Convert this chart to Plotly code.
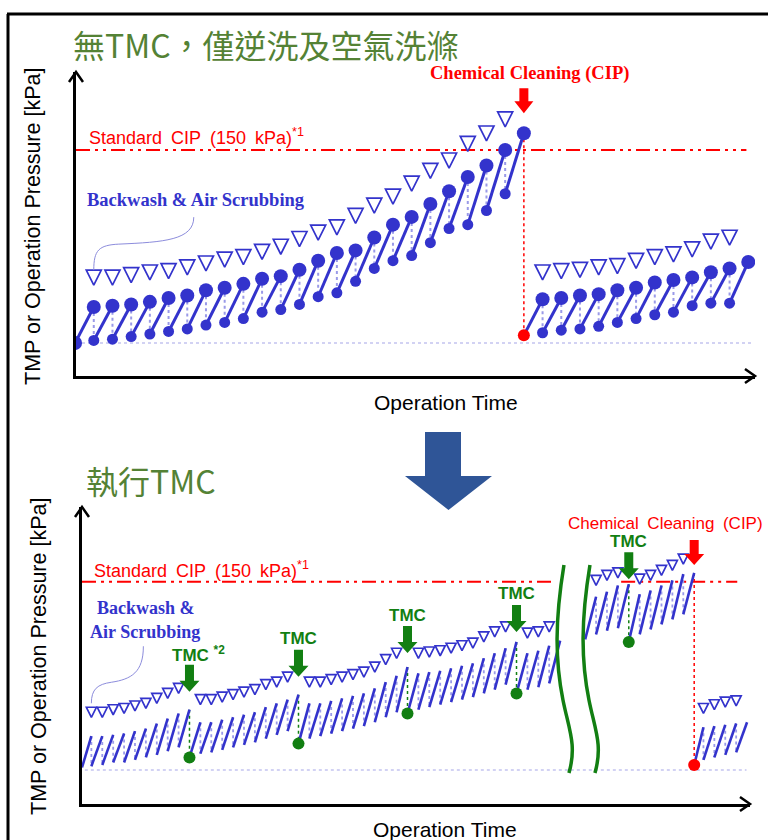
import plotly.graph_objects as go

W, H = 768, 840


def P(x, y):
    return x / W, 1 - y / H


BLUE = "#3333CC"
LIGHT = "#9A9AE8"
BASE = "#C4C4F0"
RED = "#FF0000"
GREEN = "#127F12"
TITLE_GREEN = "#548235"
ARROW_BLUE = "#2F5597"
SANS = "Liberation Sans, Arial"
SERIF = "Liberation Serif, Times New Roman"
CJK = "Noto Sans CJK TC"

# ---------------- data : upper panel (backwash + air scrubbing only) ----------------
top_start = (0, 0)
top_t = list(range(1, 37))
top_peak = [28, 29, 30, 32, 35, 37, 41, 43, 46, 50, 52, 57, 64, 70, 72, 82, 92, 98, 108, 118, 129, 138, 150, 163,
            34, 35, 37, 38, 41, 43, 47, 49, 51, 55, 58, 63]
top_low = [2, 3, 5, 7, 9, 11, 14, 16, 19, 24, 26, 30, 36, 39, 48, 58, 64, 68, 78, 89, 92, 103, 116, None,
           8, 10, 11, 13, 16, 19, 22, 24, 29, 31, 31, None]
top_op = [45, 45, 47, 49, 50, 53, 56, 59, 61, 65, 69, 75, 80, 84, 93, 101, 108, 118, 128, 136, 149, 157, 168, None,
          49, 50, 51, 53, 54, 58, 61, 63, 67, 73, 76, None]
top_cip_t, top_cip_y = 24, 6

# ---------------- data : lower panel (with TMC) ----------------
bot_start = (0.14, 2)
bot_t = [1, 2, 3, 4, 5, 6, 7, 8, 9, 10,
         11, 12, 13, 14, 15, 16, 17, 18, 19, 20,
         21, 22, 23, 24, 25, 26, 27, 28, 29, 30,
         31, 32, 33, 34, 35, 36, 37, 38, 39, 40,
         41, 42, 43, 44,
         47.3, 48.3, 49.3, 50.3,
         51.3, 52.3, 53.3, 54.3, 55.3, 56.3,
         57.15, 58.15, 59.15, 60.15, 61.15]
bot_peak = [27, 27, 28, 29, 31, 33, 37, 41, 45, 48,
            38, 38, 40, 42, 44, 46, 50, 53, 56, 60,
            53, 53, 55, 57, 59, 61, 65, 70, 75, 82,
            77, 78, 79, 81, 83, 85, 89, 93, 97, 102,
            93, 95, 99, 103,
            138, 142, 147, 148,
            140, 143, 147, 151, 156, 157,
            34, 35, 36, 37, 38]
bot_low = [3, 4, 6, 6, 8, 10, 12, 15, 18, None,
           13, 14, 16, 18, 20, 22, 25, 28, 31, None,
           25, 27, 29, 31, 33, 35, 38, 42, 46, None,
           48, 50, 52, 54, 56, 58, 61, 64, 68, None,
           64, 66, 69, None,
           108, 111, 113, None,
           108, 112, 116, 120, 124, None,
           8, 10, 12, 14, None]
bot_op = [42, 42, 44, 45, 47, 49, 53, 57, 61, None,
          52, 52, 54, 56, 58, 60, 64, 66, 70, None,
          66, 66, 68, 70, 72, 74, 78, 84, 89, None,
          89, 90, 91, 93, 95, 97, 102, 106, 110, None,
          105, 106, 110, None,
          147, 151, 153, None,
          148, 151, 155, 159, 164, None,
          45, 48, 50, 51, None]
tmc_t = [10, 20, 30, 40, 50.3]
tmc_y = [10, 21, 45, 61, 102]
tmc_label = ["TMC <sup>*2</sup>", "TMC", "TMC", "TMC", "TMC"]
break_t, restart_t, restart_y = 44, 46.3, 104
bot_cip_t, bot_cip_y = 56.3, 4
cip_level = 150


def saw(ts, peaks, lows, start, restarts):
    sx, sy, dx, dy = [], [], [], []
    x0, y0 = start
    for t, pk, lo in zip(ts, peaks, lows):
        sx += [x0, t, None]
        sy += [y0, pk, None]
        if lo is not None:
            dx += [t, t, None]
            dy += [pk, lo, None]
            x0, y0 = t, lo
        elif t in restarts:
            x0, y0 = restarts[t]
    return sx, sy, dx, dy


fig = go.Figure()

# ======== upper panel ========
ax = dict(xaxis="x", yaxis="y")
fig.add_trace(go.Scatter(x=[0.05, 36.25], y=[0, 0], mode="lines",
                         line=dict(color=BASE, width=1.5, dash="dot"), **ax))
fig.add_trace(go.Scatter(x=[0.05, 35.9], y=[cip_level, cip_level], mode="lines",
                         line=dict(color=RED, width=2, dash="14px,5px,3px,5px,3px,5px"), **ax))
sx, sy, dx, dy = saw(top_t, top_peak, top_low, top_start, {top_cip_t: (top_cip_t, top_cip_y)})
fig.add_trace(go.Scatter(x=dx, y=dy, mode="lines", line=dict(color=LIGHT, width=2, dash="dot"), **ax))
pk_top = dict(zip(top_t, top_peak))
fig.add_trace(go.Scatter(x=[top_cip_t, top_cip_t], y=[pk_top[top_cip_t], top_cip_y], mode="lines",
                         line=dict(color=RED, width=1.5, dash="dot"), **ax))
fig.add_trace(go.Scatter(x=sx, y=sy, mode="lines", line=dict(color=BLUE, width=3), **ax))
fig.add_trace(go.Scatter(x=[t for t, o in zip(top_t, top_op) if o is not None],
                         y=[o for o in top_op if o is not None], mode="markers",
                         marker=dict(symbol="arrow-down", size=15, color="white",
                                     line=dict(color=BLUE, width=1.7)), **ax))
fig.add_trace(go.Scatter(x=[t for t, lo in zip(top_t, top_low) if lo is not None],
                         y=[lo for lo in top_low if lo is not None], mode="markers",
                         marker=dict(size=11, color=BLUE), **ax))
fig.add_trace(go.Scatter(x=[top_start[0]] + top_t, y=[top_start[1]] + top_peak, mode="markers",
                         marker=dict(size=14, color=BLUE), **ax))
fig.add_trace(go.Scatter(x=[top_cip_t], y=[top_cip_y], mode="markers",
                         marker=dict(size=12, color=RED), **ax))

# ======== lower panel ========
ax2 = dict(xaxis="x2", yaxis="y2")
fig.add_trace(go.Scatter(x=[0.4, 61.1], y=[0, 0], mode="lines",
                         line=dict(color=BASE, width=1.5, dash="dot"), **ax2))
fig.add_trace(go.Scatter(x=[0.14, 43.45, None, 49.6, 60.25], y=[cip_level, cip_level, None, cip_level, cip_level],
                         mode="lines", line=dict(color=RED, width=2, dash="14px,5px,3px,5px,3px,5px"), **ax2))
restarts = {t: (t, y) for t, y in zip(tmc_t, tmc_y)}
restarts[break_t] = (restart_t, restart_y)
restarts[bot_cip_t] = (bot_cip_t, bot_cip_y)
sx, sy, dx, dy = saw(bot_t, bot_peak, bot_low, bot_start, restarts)
fig.add_trace(go.Scatter(x=dx, y=dy, mode="lines", line=dict(color=LIGHT, width=1.8, dash="dot"), **ax2))
pk_bot = dict(zip(bot_t, bot_peak))
gx, gy = [], []
for t, y in zip(tmc_t, tmc_y):
    gx += [t, t, None]
    gy += [pk_bot[t], y, None]
fig.add_trace(go.Scatter(x=gx, y=gy, mode="lines", line=dict(color=GREEN, width=1.5, dash="dot"), **ax2))
fig.add_trace(go.Scatter(x=[bot_cip_t, bot_cip_t], y=[pk_bot[bot_cip_t], bot_cip_y], mode="lines",
                         line=dict(color=RED, width=1.5, dash="dot"), **ax2))
fig.add_trace(go.Scatter(x=sx, y=sy, mode="lines", line=dict(color=BLUE, width=2.6), **ax2))
fig.add_trace(go.Scatter(x=[t for t, o in zip(bot_t, bot_op) if o is not None],
                         y=[o for o in bot_op if o is not None], mode="markers",
                         marker=dict(symbol="arrow-down", size=10, color="white",
                                     line=dict(color=BLUE, width=1.7)), **ax2))
fig.add_trace(go.Scatter(x=tmc_t, y=tmc_y, mode="markers", marker=dict(size=12, color=GREEN), **ax2))
fig.add_trace(go.Scatter(x=[bot_cip_t], y=[bot_cip_y], mode="markers", marker=dict(size=12, color=RED), **ax2))

# ======== axes ========
axis_common = dict(showgrid=False, zeroline=False, showticklabels=False, ticks="",
                   showline=True, linecolor="black", linewidth=2.5, fixedrange=True)
fig.update_layout(
    width=W, height=H, autosize=False, showlegend=False,
    margin=dict(l=0, r=0, t=0, b=0),
    paper_bgcolor="white", plot_bgcolor="white",
    xaxis=dict(domain=[76 / W, 755 / W], range=[0.05, 36.36], anchor="y", **axis_common),
    yaxis=dict(domain=[1 - 376 / H, 1 - 72 / H], range=[-25.6, 210.6], anchor="x", **axis_common),
    xaxis2=dict(domain=[82 / W, 750 / W], range=[0.14, 61.42], anchor="y2", **axis_common),
    yaxis2=dict(domain=[1 - 804 / H, 1 - 507 / H], range=[-27.1, 209.5], anchor="x2", **axis_common),
)

shapes = []


def pix_path(xref, yref, x, y, path, **kw):
    d = dict(type="path", xref=xref, yref=yref, xsizemode="pixel", ysizemode="pixel",
             xanchor=x, yanchor=y, path=path)
    d.update(kw)
    return d


# axis arrow heads
for xr, yr in (("x", "y"), ("x2", "y2")):
    shapes.append(pix_path(f"{xr} domain", f"{yr} domain", 0, 1, "M -7,-10 L 0,0 L 7,-10",
                           line=dict(color="black", width=2.5)))
    shapes.append(pix_path(f"{xr} domain", f"{yr} domain", 1, 0, "M -10,7 L 0,0 L -10,-7",
                           line=dict(color="black", width=2.5)))


def block_arrow(xref, yref, x, y, gap, color, L=27, hw=10, sw=4.5, hh=11):
    path = (f"M 0,{gap} L {hw},{gap + hh} L {sw},{gap + hh} L {sw},{gap + L} "
            f"L {-sw},{gap + L} L {-sw},{gap + hh} L {-hw},{gap + hh} Z")
    return pix_path(xref, yref, x, y, path, fillcolor=color, line=dict(width=0))


shapes.append(block_arrow("x", "y", top_cip_t, pk_top[top_cip_t], 20, RED, L=25, hw=9.5, hh=12))
tmc_gap = [18, 18, 14, 10, 5]
for t, g in zip(tmc_t, tmc_gap):
    shapes.append(block_arrow("x2", "y2", t, pk_bot[t], g, GREEN))
shapes.append(block_arrow("x2", "y2", bot_cip_t, pk_bot[bot_cip_t], 8, RED, L=25))

# axis break marks
for off in (0, 26):
    shapes.append(pix_path("x2", "y2", 44.72, 0,
                           f"M {off - 4},205 C {off - 13},150 {off - 13},110 {off - 5},70 "
                           f"C {off + 1},40 {off + 9},25 {off + 1},-3",
                           line=dict(color=GREEN, width=3.5)))

# pointer curves to the "Backwash & Air Scrubbing" labels
shapes.append(pix_path("x", "y", 1, top_op[0], "M 0,15 C 0,35 5,40 25,41 C 70,43 100,45 100,68",
                       line=dict(color="#8C8CDC", width=1)))
shapes.append(pix_path("x2", "y2", 1, bot_op[0], "M 0,14 C 0,28 6,33 20,35 C 40,38 52,45 52,71",
                       line=dict(color="#8C8CDC", width=1)))

# big blue arrow between panels
pts = [(425, 432), (461, 432), (461, 476), (492, 476), (448.5, 510), (405, 476), (425, 476)]
path = "M " + " L ".join(f"{P(x, y)[0]:.5f},{P(x, y)[1]:.5f}" for x, y in pts) + " Z"
shapes.append(dict(type="path", xref="paper", yref="paper", path=path, fillcolor=ARROW_BLUE, line=dict(width=0)))

# outer frame (top and left edges)
x0, y0 = P(7, 14)
x1, _ = P(768, 14)
_, y1 = P(7, 840)
shapes.append(dict(type="line", xref="paper", yref="paper", x0=x0, y0=y0, x1=x1, y1=y0,
                   line=dict(color="black", width=3)))
shapes.append(dict(type="line", xref="paper", yref="paper", x0=P(8, 0)[0], y0=y0, x1=P(8, 0)[0], y1=y1,
                   line=dict(color="black", width=3)))

fig.update_layout(shapes=shapes)

# ======== text ========
ann = []


def txt(x, y, text, size, color="black", family=SANS, xanchor="left", textangle=0):
    px, py = P(x, y)
    ann.append(dict(x=px, y=py, xref="paper", yref="paper", text=text, showarrow=False,
                    xanchor=xanchor, yanchor="middle", textangle=textangle,
                    font=dict(size=size, color=color, family=family)))


txt(71, 44, "無TMC，僅逆洗及空氣洗滌", 32, TITLE_GREEN, CJK)
txt(84, 480, "執行TMC", 32, TITLE_GREEN, CJK)
txt(33, 227, "TMP or Operation Pressure [kPa]", 21.5, xanchor="center", textangle=-90)
txt(39, 657, "TMP or Operation Pressure [kPa]", 21.5, xanchor="center", textangle=-90)
txt(446, 402, "Operation Time", 21, xanchor="center")
txt(445, 829, "Operation Time", 21, xanchor="center")
txt(87, 137, "Standard\u2002CIP\u2002(150\u2002kPa)<sup>*1</sup>", 18, RED)
txt(92, 569, "Standard\u2002CIP\u2002(150\u2002kPa)<sup>*1</sup>", 18, RED)
txt(85, 200, "<b>Backwash &amp; Air Scrubbing</b>", 18.5, BLUE, SERIF)
txt(95, 608, "<b>Backwash &amp;</b>", 18, BLUE, SERIF)
txt(88, 632, "<b>Air Scrubbing</b>", 18, BLUE, SERIF)
txt(529, 73, "<b>Chemical Cleaning (CIP)</b>", 18.5, RED, SERIF, xanchor="center")
txt(566, 523, "Chemical\u2002Cleaning\u2002(CIP)", 17, RED)

for t, lab, g in zip(tmc_t, tmc_label, tmc_gap):
    d = dict(x=t, y=pk_bot[t], xref="x2", yref="y2", text=f"<b>{lab}</b>", showarrow=False,
             yshift=g + 27 + 11, yanchor="middle",
             font=dict(size=17, color=GREEN, family=SANS))
    if "*2" in lab:
        d.update(xanchor="left", xshift=-19)
    else:
        d.update(xanchor="center")
    ann.append(d)

fig.update_layout(annotations=ann)

fig.write_html("out.html", config={"displayModeBar": False},
               post_script="document.body.style.margin='0px';document.body.style.overflow='hidden';")
